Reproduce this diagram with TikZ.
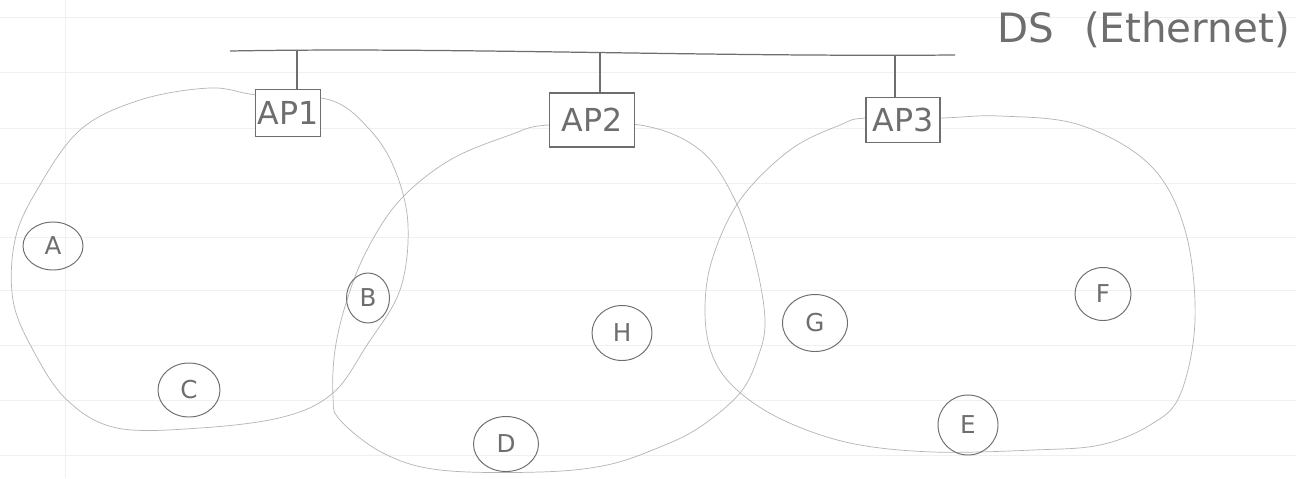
\documentclass[tikz,border=0pt]{standalone}
\usepackage{fontspec}
\setmainfont{DejaVu Sans}
\usetikzlibrary{shapes.geometric}
\definecolor{pencil}{HTML}{6E6E6E}
\definecolor{faint}{HTML}{B4B4B4}
\definecolor{ruled}{HTML}{F0F0F0}
\begin{document}
\begin{tikzpicture}[x=0.2mm,y=-0.2mm,
  sta/.style={draw=pencil,line width=0.55pt,ellipse,inner sep=0pt,font=\fontsize{14}{14}\selectfont,text=pencil},
  apbox/.style={draw=pencil,line width=0.65pt,fill=white,inner sep=1pt,font=\fontsize{18}{18}\selectfont,text=pencil},
  wire/.style={draw=pencil,line width=0.7pt},
  cell/.style={draw=faint,line width=0.4pt}]
\useasboundingbox (0,0) rectangle (1296,478);
\fill[white] (0,0) rectangle (1296,478);
% ruled paper
\foreach \yy in {17,72,128,183,237,290,345,400,455}
  \draw[ruled,line width=0.4pt] (0,\yy) -- (1296,\yy);
\draw[ruled,line width=0.4pt] (65,0) -- (65,478);
% coverage areas
\draw[cell] plot[smooth cycle,tension=0.6] coordinates {(330,100) (370,130) (395,170) (408,225) (400,290) (367,345) (333,393) (283,417) (200,428) (117,428) (67,400) (33,350) (13,300) (15,240) (37,190) (80,130) (140,100) (210,88) (257,95)};
\draw[cell] plot[smooth cycle,tension=0.6] coordinates {(640,125) (700,150) (735,200) (755,260) (765,320) (758,357) (740,393) (700,427) (660,447) (607,465) (540,472) (440,470) (383,453) (340,420) (333,397) (335,350) (347,300) (367,250) (400,200) (450,160) (510,135) (548,125)};
\draw[cell] plot[smooth cycle,tension=0.6] coordinates {(940,118) (1000,116) (1080,125) (1150,165) (1185,230) (1195,320) (1180,395) (1150,425) (1100,445) (1033,450) (933,452) (850,443) (783,420) (737,390) (713,357) (705,313) (712,260) (740,200) (790,150) (840,125) (866,118)};
% DS
\coordinate (dsL) at (230,51);
\coordinate (dsR) at (955,55);
\draw[wire] (dsL) .. controls (450,47) and (700,57) .. (dsR);
\node[anchor=west,text=pencil,font=\fontsize{23}{23}\selectfont,inner sep=0pt] (ds) at (997,30) {DS\hspace{6mm}(Ethernet)};
% APs
\node[apbox,minimum width=12.6mm,minimum height=9.4mm] (ap1) at (288,113) {AP1};
\node[apbox,minimum width=17mm,minimum height=10.8mm] (ap2) at (592,120) {AP2};
\node[apbox,minimum width=14.8mm,minimum height=9mm] (ap3) at (903,120) {AP3};
\coordinate (t1) at (297,51);
\coordinate (t2) at (600,53);
\coordinate (t3) at (895,55);
\draw[wire] (t1) -- (t1|-ap1.north);
\draw[wire] (t2) -- (t2|-ap2.north);
\draw[wire] (t3) -- (t3|-ap3.north);
% stations
\node[sta,minimum width=12mm,minimum height=9.6mm] (A) at (53,246) {A};
\node[sta,minimum width=8.6mm,minimum height=10mm] (B) at (368,298) {B};
\node[sta,minimum width=12.4mm,minimum height=10.8mm] (C) at (189,390) {C};
\node[sta,minimum width=13mm,minimum height=11mm] (D) at (506,444) {D};
\node[sta,minimum width=12mm,minimum height=12mm] (E) at (968,425) {E};
\node[sta,minimum width=11.2mm,minimum height=10.6mm] (F) at (1103,294) {F};
\node[sta,minimum width=13mm,minimum height=11.4mm] (G) at (815,323) {G};
\node[sta,minimum width=12mm,minimum height=11mm] (H) at (622,333) {H};
\end{tikzpicture}
\end{document}
